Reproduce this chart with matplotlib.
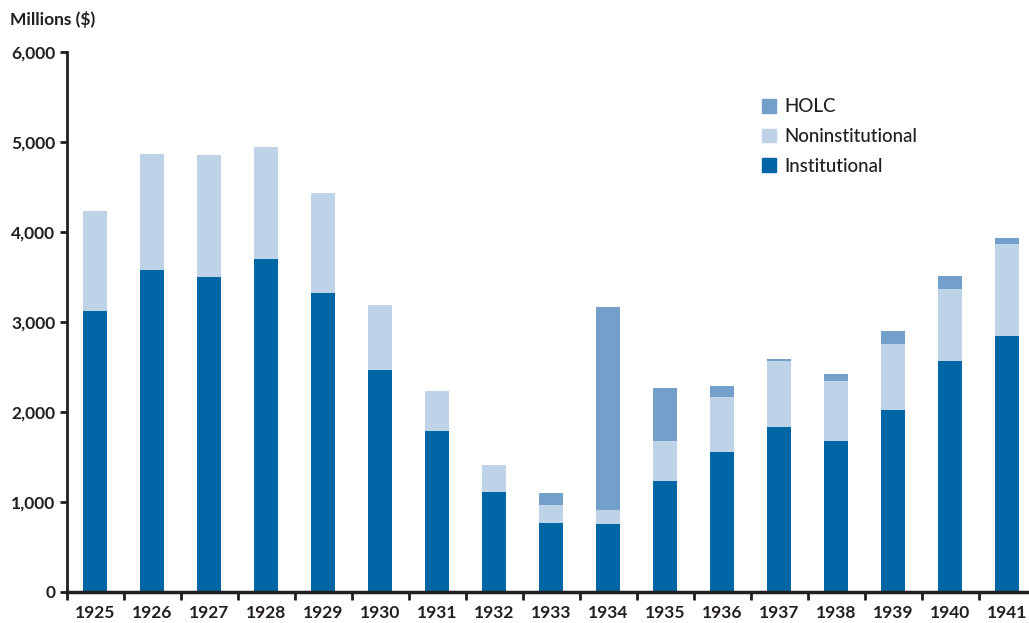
import matplotlib.pyplot as plt
from matplotlib.patches import Patch
import numpy as np

# mortgage loans by lender type, millions of dollars
years = ['1925', '1926', '1927', '1928', '1929', '1930', '1931', '1932', '1933',
         '1934', '1935', '1936', '1937', '1938', '1939', '1940', '1941']
institutional = [3122, 3578, 3503, 3700, 3322, 2467, 1789, 1111, 767,
                 756, 1230, 1558, 1836, 1682, 2017, 2562, 2841]
noninstitutional = [1111, 1289, 1353, 1244, 1111, 722, 444, 300, 200,
                    155, 445, 613, 726, 666, 744, 801, 1023]
holc = [0, 0, 0, 0, 0, 0, 0, 0, 133,
        2256, 590, 123, 22, 79, 143, 144, 68]

c_inst = '#0066a6'
c_non = '#bfd3e8'
c_holc = '#72a0ca'
dark = '#231f20'

plt.rcParams['font.family'] = ['Lato', 'DejaVu Sans']

fig = plt.figure(figsize=(10.29, 6.23), dpi=100)
ax = fig.add_axes([66.5/1029, 31/623, 969/1029, 540/623])

x = np.arange(len(years))
inst = np.array(institutional)
non = np.array(noninstitutional)
w = 0.42
ax.bar(x, inst, w, color=c_inst, linewidth=0)
ax.bar(x, non, w, bottom=inst, color=c_non, linewidth=0)
ax.bar(x, holc, w, bottom=inst + non, color=c_holc, linewidth=0)

ax.set_xlim(-0.5, len(years) - 0.5)
ax.set_ylim(0, 6000)

for s in ['top', 'right']:
    ax.spines[s].set_visible(False)
ax.spines['left'].set_linewidth(2)
ax.spines['left'].set_color(dark)
ax.spines['bottom'].set_linewidth(2.5)
ax.spines['bottom'].set_color(dark)

ax.set_yticks(range(0, 6001, 1000))
ax.set_yticklabels(['{:,}'.format(v) for v in range(0, 6001, 1000)],
                   fontsize=12.5, fontweight='bold', color=dark)
ax.tick_params(axis='y', length=5, width=2, color=dark, pad=3)

ax.set_xticks(np.arange(-0.5, len(years), 1))
ax.set_xticklabels([])
ax.tick_params(axis='x', which='major', length=6, width=2, color=dark)
ax.set_xticks(x, minor=True)
ax.set_xticklabels(years, minor=True, fontsize=12.5, fontweight='bold', color=dark)
ax.tick_params(axis='x', which='minor', length=0, pad=9)

fig.text(10/1029, 1 - 19/623, 'Millions ($)', fontsize=12.5, fontweight='bold',
         color=dark, va='center', ha='left')

handles = [Patch(color=c_holc), Patch(color=c_non), Patch(color=c_inst)]
ax.legend(handles, ['HOLC', 'Noninstitutional', 'Institutional'],
          loc='upper left', bbox_to_anchor=(753/1029, 1 - 89/623),
          bbox_transform=fig.transFigure, frameon=False, borderpad=0,
          handlelength=0.75, handleheight=0.75, handletextpad=0.4,
          labelspacing=0.68, prop={'size': 13.5, 'weight': 'medium'},
          labelcolor=dark)

fig.savefig('out.png', dpi=100)
